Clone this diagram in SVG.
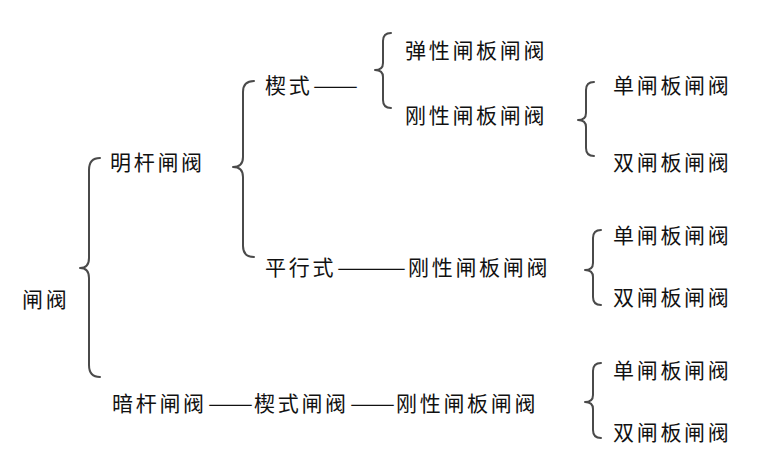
<svg xmlns="http://www.w3.org/2000/svg" width="761" height="460" viewBox="0 0 761 460">
<style>
text{font-family:"Noto Sans CJK SC","Noto Sans CJK JP",sans-serif;font-size:21px;letter-spacing:2.7px;fill:#111}
text.d{letter-spacing:0}
.brace{fill:none;stroke:#4a4a4a;stroke-width:2;stroke-linecap:round;stroke-linejoin:round}
</style>
<rect width="761" height="460" fill="#fff"/>
<g id="connectors">
<path class="brace" d="M100,158 Q89,158 89,170 L89,258 Q89,268 80,268 Q89,268 89,278 L89,365 Q89,377 100,377"/>
<path class="brace" d="M254,81 Q243,81 243,92 L243,157 Q243,167 233,167 Q243,167 243,177 L243,246 Q243,257 254,257"/>
<path class="brace" d="M391,33 Q383,33 383,41 L383,63 Q383,70 375,70 Q383,70 383,77 L383,100 Q383,108 391,108"/>
<path class="brace" d="M594,82 Q586,82 586,90 L586,113 Q586,120 578,120 Q586,120 586,127 L586,148 Q586,156 594,156"/>
<path class="brace" d="M601,230 Q593,230 593,238 L593,263 Q593,270 585,270 Q593,270 593,277 L593,297 Q593,305 601,305"/>
<path class="brace" d="M601,363 Q593,363 593,371 L593,395 Q593,402 585,402 Q593,402 593,409 L593,430 Q593,438 601,438"/>
</g>
<g id="n-root"><text x="22" y="306.5">闸阀</text></g>
<g id="n-mingan"><text x="110" y="169.5">明杆闸阀</text></g>
<g id="n-xieshi"><text x="265" y="92.5">楔式</text><text class="d" x="313" y="92.5" textLength="45" lengthAdjust="spacingAndGlyphs">——</text></g>
<g id="n-pingxing"><text x="265" y="274.5">平行式</text><text class="d" x="337" y="274.5" textLength="69" lengthAdjust="spacingAndGlyphs">———</text><text x="408" y="274.5">刚性闸板闸阀</text></g>
<g id="n-tanxing"><text x="405" y="57.5">弹性闸板闸阀</text></g>
<g id="n-gangxing"><text x="405" y="122.5">刚性闸板闸阀</text></g>
<g id="n-dan1"><text x="613" y="92.5">单闸板闸阀</text></g>
<g id="n-shuang1"><text x="613" y="169.5">双闸板闸阀</text></g>
<g id="n-dan2"><text x="613" y="242.5">单闸板闸阀</text></g>
<g id="n-shuang2"><text x="613" y="304.5">双闸板闸阀</text></g>
<g id="n-angan"><text x="112" y="410.5">暗杆闸阀</text><text class="d" x="208" y="410.5" textLength="45" lengthAdjust="spacingAndGlyphs">——</text><text x="254" y="410.5">楔式闸阀</text><text class="d" x="350" y="410.5" textLength="45" lengthAdjust="spacingAndGlyphs">——</text><text x="396" y="410.5">刚性闸板闸阀</text></g>
<g id="n-dan3"><text x="613" y="377.5">单闸板闸阀</text></g>
<g id="n-shuang3"><text x="613" y="439.5">双闸板闸阀</text></g>
</svg>
